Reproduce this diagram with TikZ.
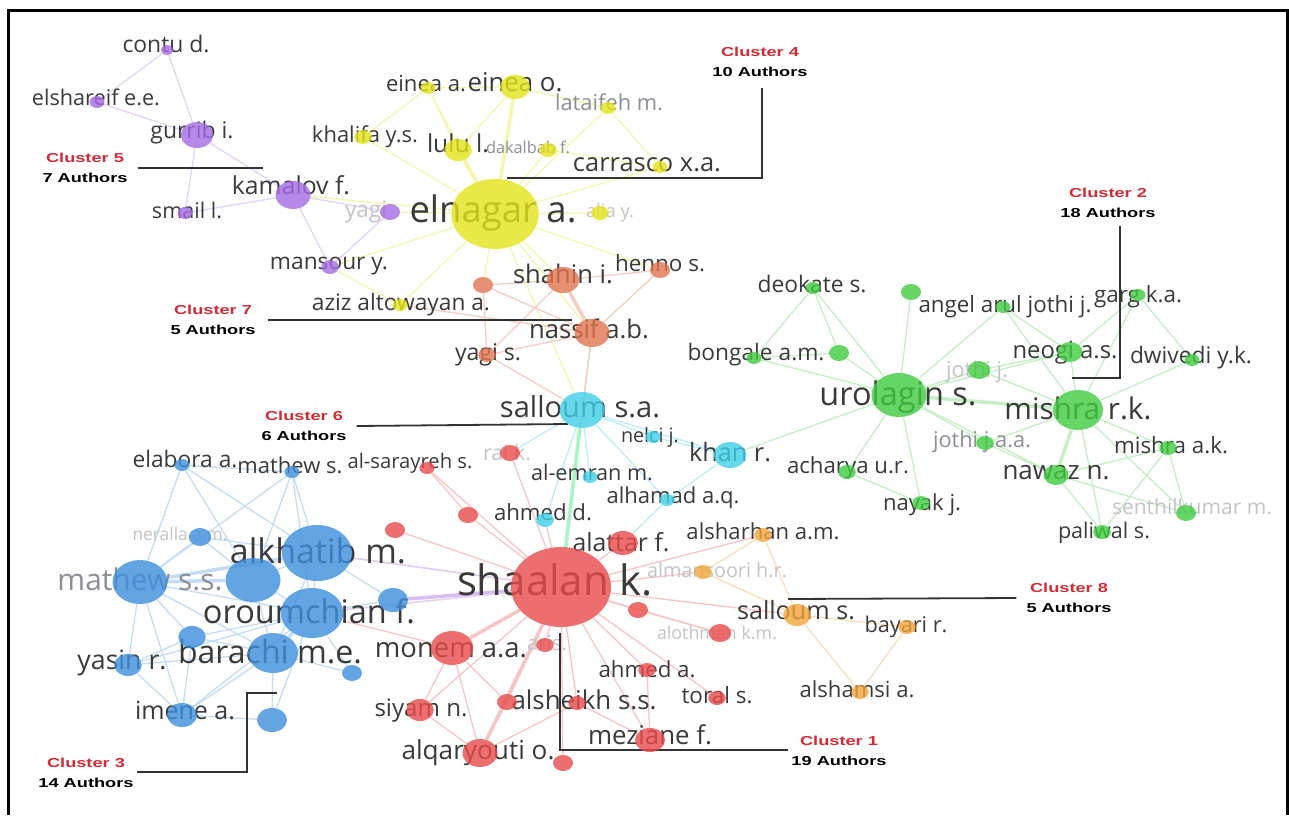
\documentclass[tikz,border=0pt]{standalone}
\usepackage{fontspec}
\setmainfont{Open Sans}
\newfontfamily\clfont{Liberation Sans}[FakeStretch=1.4]
\usetikzlibrary{shapes.geometric}
\pgfdeclarelayer{bg}\pgfdeclarelayer{fg}\pgfsetlayers{bg,main,fg}
\definecolor{cR}{HTML}{E84A4A}
\definecolor{cG}{HTML}{3FCB3F}
\definecolor{cB}{HTML}{3C8FDC}
\definecolor{cY}{HTML}{E3E41A}
\definecolor{cP}{HTML}{A46BE4}
\definecolor{cC}{HTML}{3FCFE8}
\definecolor{cO}{HTML}{F2A43A}
\definecolor{cQ}{HTML}{E2734F}
\definecolor{txt}{HTML}{3A3A3A}
\definecolor{fade}{HTML}{C4C4C8}
\definecolor{mid}{HTML}{8E8E96}
\definecolor{clred}{HTML}{D42A35}
\definecolor{brk}{HTML}{333333}
\newcommand{\lab}[2]{\resizebox{#1pt}{!}{\vphantom{dg}#2}}
\newcommand{\cn}[5]{\node[dotnode,fill=#5,minimum width={2.5*#4pt},minimum height={2*#4pt}] (#1) at (#2,#3) {};}
\newcommand{\lb}[6]{\node[lbl,text=#5] (l-#1) at (#2,#3) {\lab{#4}{#6}};}
\tikzset{
  dotnode/.style={ellipse,draw=none,inner sep=0pt,fill opacity=0.8},
  lbl/.style={inner sep=0pt,outer sep=0pt},
  lnk/.style={line width=1.3pt},
  lnkR/.style={lnk,draw=cR!32},
  lnkG/.style={lnk,draw=cG!30},
  lnkB/.style={lnk,draw=cB!30},
  lnkY/.style={lnk,draw=cY!35},
  lnkP/.style={lnk,draw=cP!30},
  lnkC/.style={lnk,draw=cC!35},
  lnkO/.style={lnk,draw=cO!35},
  lnkQ/.style={lnk,draw=cQ!35},
  thick/.style={line width=3.5pt},
  clus/.style={align=center,inner sep=0pt,font=\clfont\bfseries\fontsize{13}{20}\selectfont},
  brkline/.style={draw=brk,line width=1.8pt},
}
\begin{document}
\begin{tikzpicture}[x=1pt,y=-1pt]
\useasboundingbox (0,0) rectangle (1289,815);

\begin{pgfonlayer}{fg}
% purple
\cn{contu}{167}{50}{5}{cP}
\cn{elshareif}{97}{102}{6}{cP}
\cn{gurrib}{197}{135}{13}{cP}
\cn{kamalov}{293}{195}{14}{cP}
\cn{smail}{185}{213}{6}{cP}
\cn{mansour}{330}{267}{7}{cP}
\cn{yagiP}{390}{212}{8}{cP}
% yellow
\cn{elnagar}{495}{214}{35}{cY}
\cn{eineaa}{428}{88}{6}{cY}
\cn{eineao}{515}{87}{12}{cY}
\cn{lataifeh}{608}{108}{6}{cY}
\cn{lulu}{458}{150}{11}{cY}
\cn{dakalbab}{548}{150}{7}{cY}
\cn{carrasco}{660}{167}{6}{cY}
\cn{khalifa}{363}{137}{7}{cY}
\cn{alia}{600}{213}{7}{cY}
\cn{aziz}{400}{305}{6}{cY}
% cluster 7
\cn{shahin}{563}{280}{13}{cQ}
\cn{henno}{660}{270}{8}{cQ}
\cn{nassif}{592}{333}{14}{cQ}
\cn{yagis}{487}{355}{7}{cQ}
\cn{q1}{483}{285}{8}{cQ}
% cyan
\cn{sallouma}{582}{410}{18}{cC}
\cn{nelci}{653}{437}{6}{cC}
\cn{khan}{730}{455}{13}{cC}
\cn{alemran}{590}{477}{6}{cC}
\cn{alhamad}{667}{500}{6}{cC}
\cn{ahmedd}{545}{520}{7}{cC}
% red
\cn{shaalan}{561}{587}{40}{cR}
\cn{raik}{510}{453}{8}{cR}
\cn{alsarayreh}{427}{468}{6}{cR}
\cn{r1}{468}{515}{8}{cR}
\cn{r2}{395}{530}{8}{cR}
\cn{alattar}{623}{543}{12}{cR}
\cn{monem}{452}{648}{17}{cR}
\cn{aris}{545}{645}{7}{cR}
\cn{r3}{638}{610}{8}{cR}
\cn{alothman}{720}{633}{9}{cR}
\cn{ahmeda}{647}{670}{7}{cR}
\cn{toral}{717}{698}{7}{cR}
\cn{siyam}{420}{710}{11}{cR}
\cn{r4}{507}{702}{8}{cR}
\cn{alsheikh}{577}{703}{7}{cR}
\cn{meziane}{650}{740}{12}{cR}
\cn{alqaryouti}{480}{753}{14}{cR}
\cn{r5}{563}{763}{8}{cR}
% orange
\cn{alsharhan}{763}{535}{7}{cO}
\cn{almansoori}{703}{572}{7}{cO}
\cn{salloums}{797}{615}{11}{cO}
\cn{bayari}{907}{627}{7}{cO}
\cn{alshamsi}{860}{692}{7}{cO}
% blue
\cn{elabora}{182}{465}{6}{cB}
\cn{mathews}{292}{472}{6}{cB}
\cn{neralla}{200}{537}{9}{cB}
\cn{alkhatib}{317}{553}{28}{cB}
\cn{mathewss}{140}{582}{22}{cB}
\cn{b1}{253}{580}{22}{cB}
\cn{oroumchian}{312}{613}{25}{cB}
\cn{b2}{393}{600}{12}{cB}
\cn{b3}{192}{637}{11}{cB}
\cn{barachi}{273}{653}{20}{cB}
\cn{yasin}{128}{665}{11}{cB}
\cn{b4}{352}{673}{8}{cB}
\cn{imene}{182}{715}{12}{cB}
\cn{b5}{272}{720}{12}{cB}
% green
\cn{deokate}{813}{288}{6}{cG}
\cn{g1}{911}{292}{8}{cG}
\cn{angel}{1003}{307}{6}{cG}
\cn{garg}{1138}{295}{6}{cG}
\cn{bongale}{754}{358}{6}{cG}
\cn{g2}{839}{353}{8}{cG}
\cn{neogi}{1070}{352}{10}{cG}
\cn{dwivedi}{1192}{360}{6}{cG}
\cn{g3}{979}{370}{9}{cG}
\cn{urolagin}{899}{395}{22}{cG}
\cn{mishrark}{1078}{410}{20}{cG}
\cn{jothijaa}{985}{443}{7}{cG}
\cn{mishraak}{1168}{448}{7}{cG}
\cn{acharya}{847}{472}{7}{cG}
\cn{nawaz}{1056}{475}{10}{cG}
\cn{nayak}{921}{503}{7}{cG}
\cn{senthil}{1186}{513}{8}{cG}
\cn{paliwal}{1102}{532}{7}{cG}
\end{pgfonlayer}

\begin{pgfonlayer}{bg}
\fill[white] (0,0) rectangle (1289,815);
\foreach \a/\b in {contu/elshareif,contu/gurrib,elshareif/gurrib,gurrib/kamalov,gurrib/smail,smail/kamalov,kamalov/mansour,kamalov/yagiP,mansour/yagiP}
  \draw[lnkP] (\a) -- (\b);
\draw[lnkP,thick,draw=cP!45] (b2) -- (shaalan);
\foreach \a/\b in {kamalov/elnagar,mansour/elnagar,elnagar/eineaa,eineaa/eineao,eineaa/lulu,lulu/eineao,elnagar/khalifa,khalifa/eineaa,elnagar/lataifeh,elnagar/dakalbab,elnagar/carrasco,lataifeh/carrasco,dakalbab/carrasco,eineao/lataifeh,elnagar/alia,elnagar/aziz,elnagar/shahin,elnagar/nassif,elnagar/henno,elnagar/yagiP,elnagar/sallouma,elnagar/q1,aziz/mansour}
  \draw[lnkY] (\a) -- (\b);
\draw[lnkY,thick] (elnagar) -- (eineao);
\draw[lnkY,thick] (elnagar) -- (lulu);
\foreach \a/\b in {shahin/henno,nassif/henno,q1/nassif,q1/shahin,yagis/nassif,yagis/shahin,nassif/sallouma,yagis/sallouma,aziz/nassif,nassif/shaalan,yagis/q1}
  \draw[lnkQ] (\a) -- (\b);
\draw[lnkQ,thick] (shahin) -- (nassif);
\foreach \a/\b in {sallouma/nelci,sallouma/khan,sallouma/alemran,sallouma/alhamad,sallouma/ahmedd,khan/alhamad,sallouma/raik,alhamad/alattar,nelci/khan}
  \draw[lnkC] (\a) -- (\b);
\draw[lnkC,thick,draw=green!55!cC!40] (sallouma) -- (shaalan);
\foreach \a in {alsarayreh,raik,r1,r2,ahmedd,alattar,almansoori,alsharhan,r3,alothman,aris,ahmeda,toral,siyam,r4,alsheikh,meziane,r5,alkhatib,oroumchian,salloums}
  \draw[lnkR] (shaalan) -- (\a);
\foreach \a/\b in {monem/siyam,monem/alqaryouti,siyam/alqaryouti,monem/r4,alqaryouti/r4,alqaryouti/alsheikh,ahmeda/meziane,alsheikh/meziane,r3/alothman,alsarayreh/r1,monem/oroumchian}
  \draw[lnkR] (\a) -- (\b);
\draw[lnkR,thick] (shaalan) -- (monem);
\draw[lnkR,thick] (shaalan) -- (alqaryouti);
\foreach \a/\b in {alsharhan/almansoori,alsharhan/salloums,almansoori/salloums,salloums/alshamsi,alshamsi/bayari,salloums/bayari}
  \draw[lnkO] (\a) -- (\b);
\foreach \a/\b in {elabora/mathews,elabora/mathewss,elabora/alkhatib,elabora/b1,mathews/alkhatib,mathews/oroumchian,mathews/b1,mathews/mathewss,neralla/mathewss,neralla/alkhatib,neralla/b1,alkhatib/b1,alkhatib/oroumchian,alkhatib/b2,alkhatib/barachi,mathewss/oroumchian,mathewss/barachi,mathewss/yasin,mathewss/imene,mathewss/b3,b1/oroumchian,b1/barachi,oroumchian/b2,oroumchian/b3,oroumchian/yasin,oroumchian/imene,oroumchian/b4,barachi/b3,barachi/yasin,barachi/imene,barachi/b5,barachi/b4,b3/yasin,b3/imene,yasin/imene,imene/b5,b5/oroumchian}
  \draw[lnkB] (\a) -- (\b);
\draw[lnkB,thick] (alkhatib) -- (mathewss);
\draw[lnkB,thick] (mathewss) -- (b1);
\draw[lnkB,thick] (oroumchian) -- (barachi);
\draw[lnkB,draw=cP!35] (alkhatib) -- (shaalan);
\draw[lnkB,draw=cP!30] (oroumchian) -- (shaalan);
\foreach \a/\b in {deokate/bongale,deokate/g2,deokate/urolagin,g1/urolagin,bongale/urolagin,g2/urolagin,angel/urolagin,angel/mishrark,angel/neogi,garg/neogi,garg/dwivedi,garg/mishrark,neogi/mishrark,neogi/urolagin,dwivedi/mishrark,g3/urolagin,g3/mishrark,urolagin/jothijaa,urolagin/acharya,urolagin/nayak,acharya/nayak,urolagin/nawaz,mishrark/jothijaa,mishrark/mishraak,mishrark/senthil,mishrark/paliwal,nawaz/paliwal,nawaz/senthil,mishraak/senthil,mishraak/paliwal,jothijaa/nawaz,nawaz/mishraak,bongale/g2,neogi/g3,khan/urolagin}
  \draw[lnkG] (\a) -- (\b);
\draw[lnkG,thick] (urolagin) -- (mishrark);
\draw[lnkG,thick] (mishrark) -- (nawaz);
\end{pgfonlayer}

\draw[line width=3pt] (8,815) -- (8,10) -- (1287,10) -- (1287,815);

% labels
\lb{contu}{166}{47}{87}{txt}{contu d.}
\lb{elshareif}{96}{100}{128}{txt}{elshareif e.e.}
\lb{gurrib}{192}{133}{83}{txt}{gurrib i.}
\lb{kamalov}{291}{188}{118}{txt}{kamalov f.}
\lb{smail}{187}{213}{70}{txt}{smail l.}
\lb{mansour}{329}{264}{118}{txt}{mansour y.}
\lb{yagiP}{366}{212}{42}{fade}{yagi}
\lb{khalifa}{365}{137}{106}{txt}{khalifa y.s.}
\lb{eineaa}{426}{86}{80}{txt}{einea a.}
\lb{eineao}{515}{85}{95}{txt}{einea o.}
\lb{lataifeh}{609}{105}{108}{mid}{lataifeh m.}
\lb{lulu}{458}{146}{62}{txt}{lulu l.}
\lb{dakalbab}{528}{149}{84}{mid}{dakalbab f.}
\lb{carrasco}{647}{165}{148}{txt}{carrasco x.a.}
\lb{elnagar}{493}{213}{167}{txt}{elnagar a.}
\lb{alia}{610}{213}{48}{fade}{alia y.}
\lb{aziz}{401}{305}{178}{txt}{aziz altowayan a.}
\lb{shahin}{563}{277}{100}{txt}{shahin i.}
\lb{henno}{660}{266}{90}{txt}{henno s.}
\lb{nassif}{589}{332}{120}{txt}{nassif a.b.}
\lb{yagis}{488}{355}{66}{txt}{yagi s.}
\lb{sallouma}{580}{410}{160}{txt}{salloum s.a.}
\lb{nelci}{650}{437}{58}{txt}{nelci j.}
\lb{khan}{730}{455}{82}{txt}{khan r.}
\lb{alemran}{592}{475}{122}{txt}{al-emran m.}
\lb{alhamad}{673}{498}{133}{txt}{alhamad a.q.}
\lb{ahmedd}{543}{515}{98}{txt}{ahmed d.}
\lb{raik}{507}{455}{48}{fade}{rai k.}
\lb{alsarayreh}{410}{463}{125}{txt}{al-sarayreh s.}
\lb{alattar}{621}{545}{97}{txt}{alattar f.}
\lb{alsharhan}{763}{534}{153}{txt}{alsharhan a.m.}
\lb{almansoori}{717}{572}{140}{fade}{almansoori h.r.}
\lb{shaalan}{555}{585}{196}{txt}{shaalan k.}
\lb{salloums}{796}{613}{118}{txt}{salloum s.}
\lb{bayari}{906}{627}{83}{txt}{bayari r.}
\lb{alshamsi}{857}{692}{115}{txt}{alshamsi a.}
\lb{alothman}{717}{635}{120}{fade}{alothman k.m.}
\lb{monem}{451}{650}{152}{txt}{monem a.a.}
\lb{aris}{547}{645}{40}{fade}{aris.}
\lb{ahmeda}{647}{672}{97}{txt}{ahmed a.}
\lb{toral}{717}{698}{71}{txt}{toral s.}
\lb{siyam}{421}{710}{93}{txt}{siyam n.}
\lb{alsheikh}{584}{703}{145}{txt}{alsheikh s.s.}
\lb{meziane}{650}{738}{124}{txt}{meziane f.}
\lb{alqaryouti}{478}{753}{153}{txt}{alqaryouti o.}
\lb{elabora}{185}{462}{105}{txt}{elabora a.}
\lb{mathews}{290}{468}{105}{txt}{mathew s.}
\lb{neralla}{180}{536}{95}{fade}{neralla a.m.}
\lb{alkhatib}{318}{555}{176}{txt}{alkhatib m.}
\lb{mathewss}{140}{583}{165}{mid}{mathew s.s.}
\lb{oroumchian}{309}{615}{212}{txt}{oroumchian f.}
\lb{barachi}{270}{655}{184}{txt}{barachi m.e.}
\lb{yasin}{122}{663}{89}{txt}{yasin r.}
\lb{imene}{185}{713}{100}{txt}{imene a.}
\lb{deokate}{812}{287}{109}{txt}{deokate s.}
\lb{angel}{1005}{307}{173}{txt}{angel arul jothi j.}
\lb{garg}{1138}{297}{88}{txt}{garg k.a.}
\lb{bongale}{756}{355}{137}{txt}{bongale a.m.}
\lb{neogi}{1065}{352}{105}{txt}{neogi a.s.}
\lb{dwivedi}{1191}{358}{122}{txt}{dwivedi y.k.}
\lb{g3}{977}{372}{62}{fade}{jothi j.}
\lb{urolagin}{898}{397}{157}{txt}{urolagin s.}
\lb{mishrark}{1078}{412}{147}{txt}{mishra r.k.}
\lb{jothijaa}{982}{442}{98}{mid}{jothi j.a.a.}
\lb{mishraak}{1171}{448}{114}{txt}{mishra a.k.}
\lb{acharya}{848}{468}{122}{txt}{acharya u.r.}
\lb{nawaz}{1056}{473}{107}{txt}{nawaz n.}
\lb{nayak}{922}{505}{78}{txt}{nayak j.}
\lb{senthil}{1192}{509}{160}{fade}{senthilkumar m.}
\lb{paliwal}{1104}{533}{92}{txt}{paliwal s.}

% cluster annotations
\node[clus] (c1) at (839,751) {\textcolor{clred}{Cluster 1}\\19 Authors};
\node[clus] (c2) at (1108,203) {\textcolor{clred}{Cluster 2}\\18 Authors};
\node[clus] (c3) at (86,773) {\textcolor{clred}{Cluster 3}\\14 Authors};
\node[clus] (c4) at (760,62) {\textcolor{clred}{Cluster 4}\\10 Authors};
\node[clus] (c5) at (85,168) {\textcolor{clred}{Cluster 5}\\7 Authors};
\node[clus] (c6) at (304,426) {\textcolor{clred}{Cluster 6}\\6 Authors};
\node[clus] (c7) at (213,320) {\textcolor{clred}{Cluster 7}\\5 Authors};
\node[clus] (c8) at (1069,598) {\textcolor{clred}{Cluster 8}\\5 Authors};

\coordinate (k5) at (263,168);
\coordinate (k4a) at (762,88); \coordinate (k4b) at (762,178); \coordinate (k4c) at (507,178);
\coordinate (k7) at (572,320);
\coordinate (k6) at (568,424);
\coordinate (k2a) at (1120,226); \coordinate (k2b) at (1120,378); \coordinate (k2c) at (1072,378);
\coordinate (k8) at (788,599);
\coordinate (k1a) at (788,750); \coordinate (k1b) at (560,750); \coordinate (k1c) at (560,633);
\coordinate (k3a) at (137,772); \coordinate (k3b) at (247,772); \coordinate (k3c) at (247,693); \coordinate (k3d) at (277,693);
\draw[brkline] ([xshift=10pt]c5.east) -- (k5);
\draw[brkline] (k4a) -- (k4b) -- (k4c);
\draw[brkline] ([xshift=12pt]c7.east) -- (k7);
\draw[brkline] ([xshift=10pt]c6.east) -- (k6);
\draw[brkline] (k2a) -- (k2b) -- (k2c);
\draw[brkline] (k8) -- ([xshift=-10pt]c8.west);
\draw[brkline] (k1a) -- (k1b) -- (k1c);
\draw[brkline] (k3a) -- (k3b) -- (k3c) -- (k3d);
\end{tikzpicture}
\end{document}
